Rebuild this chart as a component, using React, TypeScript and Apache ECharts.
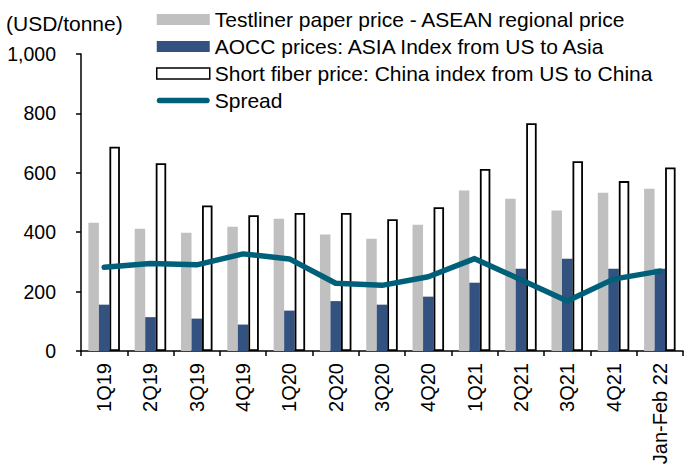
import React, { useEffect, useRef } from "react";
import * as echarts from "echarts";

const categories = ["1Q19", "2Q19", "3Q19", "4Q19", "1Q20", "2Q20", "3Q20", "4Q20", "1Q21", "2Q21", "3Q21", "4Q21", "Jan-Feb 22"];
const testliner = [432, 412, 398, 418, 445, 392, 378, 425, 540, 513, 473, 533, 546];
const aocc = [156, 114, 109, 89, 136, 168, 156, 183, 230, 277, 311, 277, 277];
const shortFiber = [688, 632, 490, 457, 465, 465, 444, 484, 613, 767, 639, 572, 618];
const spread = [282, 295, 290, 327, 310, 228, 221, 250, 311, 240, 168, 242, 269];

const seriesNames = [
  "Testliner paper price - ASEAN regional price",
  "AOCC prices: ASIA Index from US to Asia",
  "Short fiber price: China index from US to China",
  "Spread",
];
const unitLabel = "(USD/tonne)";

const FONT = "'Liberation Sans', Arial, sans-serif";
const LINE_ICON =
  "path://M0,0 L0,0 M2.75,2.75 L50.25,2.75 A2.75,2.75 0 0 1 50.25,8.25 L2.75,8.25 A2.75,2.75 0 0 1 2.75,2.75 Z M53,11 L53,11";

export default function App() {
  const ref = useRef<HTMLDivElement>(null);
  useEffect(() => {
    if (!ref.current) return;
    const chart = echarts.init(ref.current, undefined, { renderer: "svg" });
    chart.setOption({
      animation: false,
      backgroundColor: "#fff",
      textStyle: { fontFamily: FONT, color: "#000" },
      title: {
        text: unitLabel,
        left: 6,
        top: 13,
        padding: 0,
        textStyle: { fontFamily: FONT, fontSize: 21, fontWeight: "normal", color: "#000" },
      },
      legend: {
        orient: "vertical",
        left: 156,
        top: 9,
        padding: 0,
        itemWidth: 53,
        itemHeight: 11,
        itemGap: 6,
        textStyle: { fontFamily: FONT, fontSize: 21, color: "#000", lineHeight: 21 },
        data: [
          { name: seriesNames[0], icon: "rect", itemStyle: { color: "#c0c0c0" } },
          { name: seriesNames[1], icon: "rect", itemStyle: { color: "#33527f" } },
          { name: seriesNames[2], icon: "rect", itemStyle: { color: "#fff", borderColor: "#000", borderWidth: 1.5 } },
          { name: seriesNames[3], icon: LINE_ICON, itemStyle: { color: "#00607a", borderWidth: 0 } },
        ],
      },
      grid: { left: 81, right: 1, top: 54, bottom: 120, containLabel: false },
      xAxis: {
        type: "category",
        data: categories,
        boundaryGap: true,
        axisLine: { lineStyle: { color: "#000", width: 1.5 } },
        axisTick: { show: true, length: 5, lineStyle: { color: "#000", width: 1.5 }, alignWithLabel: false },
        axisLabel: { rotate: 90, fontSize: 20, color: "#000", fontFamily: FONT, margin: 12, interval: 0 },
        splitLine: { show: false },
      },
      yAxis: {
        type: "value",
        min: 0,
        max: 1000,
        interval: 200,
        axisLine: { show: true, lineStyle: { color: "#000", width: 1.5 } },
        axisTick: { show: true, length: 5, lineStyle: { color: "#000", width: 1.5 } },
        axisLabel: {
          fontSize: 19.5,
          color: "#000",
          fontFamily: FONT,
          margin: 25,
          formatter: (v: number) => v.toLocaleString("en-US"),
        },
        splitLine: { show: false },
      },
      series: [
        {
          name: seriesNames[0],
          type: "bar",
          data: testliner,
          barWidth: 10.5,
          barGap: "0%",
          itemStyle: { color: "#c0c0c0" },
        },
        {
          name: seriesNames[1],
          type: "bar",
          data: aocc,
          barWidth: 10.5,
          barGap: "0%",
          itemStyle: { color: "#33527f" },
        },
        {
          name: seriesNames[2],
          type: "bar",
          data: shortFiber,
          barWidth: 10.5,
          barGap: "0%",
          itemStyle: { color: "#fff", borderColor: "#000", borderWidth: 1.8 },
        },
        {
          name: seriesNames[3],
          type: "line",
          data: spread,
          symbol: "none",
          showSymbol: false,
          lineStyle: { color: "#00607a", width: 5.5, cap: "round", join: "round" },
          itemStyle: { color: "#00607a" },
          z: 5,
        },
      ],
    });
    return () => chart.dispose();
  }, []);
  return <div ref={ref} style={{ width: 684, height: 471, position: "absolute", left: 0, top: 0 }} />;
}
